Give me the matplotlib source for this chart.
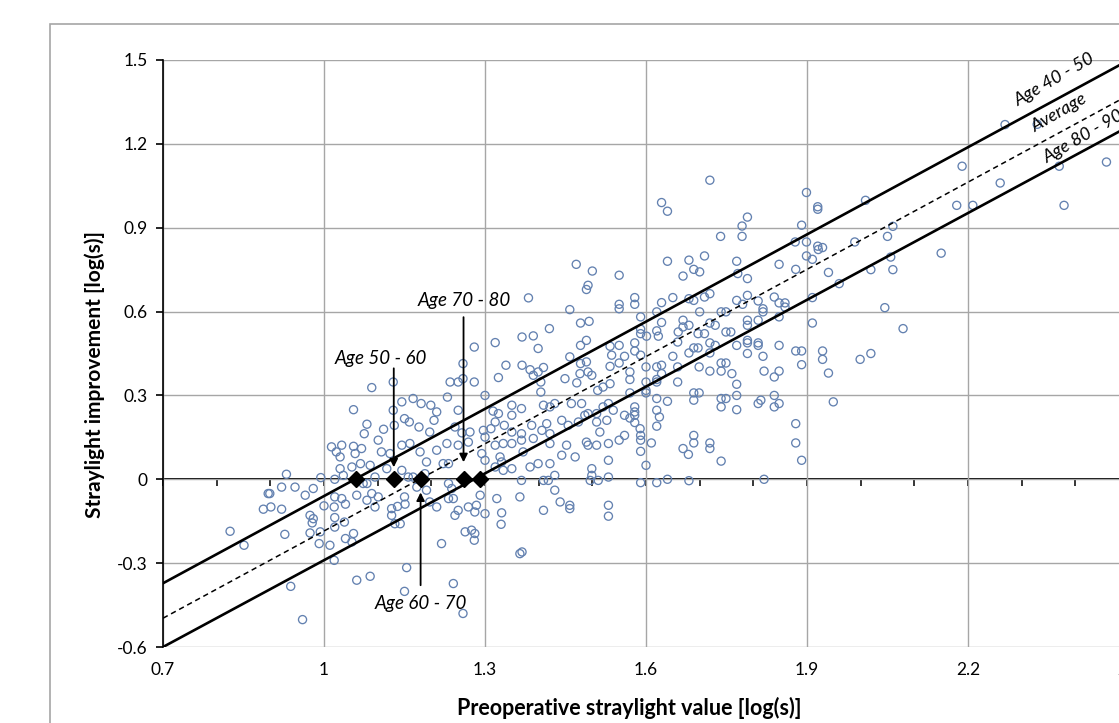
import matplotlib
matplotlib.use("Agg")
import matplotlib.pyplot as plt
from matplotlib.patches import Rectangle
from matplotlib.ticker import MultipleLocator

plt.rcParams['font.family'] = ['Lato', 'DejaVu Sans']

# ---------------- data ----------------
pre_x = [
    2.269, 2.329, 2.189, 2.458, 2.37, 2.26, 2.179, 2.209, 2.379,
    1.899, 1.92, 1.92, 2.009, 1.89, 2.06, 2.05, 1.989, 1.899,
    1.92, 1.921, 1.929, 1.899, 1.91, 2.056, 2.15, 1.94, 2.019, 2.06, 1.96, 1.91,
    2.045, 1.91, 2.079, 1.89, 1.929, 1.929, 1.89, 1.999, 2.019, 1.94, 1.949, 1.89,
    1.719, 1.629, 1.64, 1.789, 1.779, 1.779, 1.739, 1.878, 1.709, 1.64, 1.68, 1.689,
    1.70, 1.669, 1.769, 1.771, 1.789, 1.848, 1.879, 1.55, 1.55, 1.55, 1.579, 1.579,
    1.65, 1.68, 1.689, 1.709, 1.719, 1.629, 1.769, 1.789, 1.809, 1.839, 1.848, 1.859,
    1.818, 1.818, 1.859, 1.78, 1.62, 1.59, 1.70, 1.74, 1.749, 1.848, 1.629, 1.669,
    1.669, 1.68, 1.66, 1.719, 1.729, 1.789, 1.789, 1.809, 1.59, 1.59, 1.62, 1.623,
    1.601, 1.697, 1.709, 1.749, 1.758, 1.55, 1.579, 1.579, 1.659, 1.689, 1.697, 1.719,
    1.729, 1.769, 1.789, 1.789, 1.809, 1.809, 1.848, 1.879, 1.56, 1.59, 1.65, 1.68,
    1.719, 1.789, 1.818,
    1.55, 1.57, 1.57, 1.60, 1.62, 1.629, 1.629, 1.62, 1.62, 1.60, 1.659, 1.659, 1.699,
    1.719, 1.74, 1.74, 1.749, 1.76, 1.769, 1.82, 1.848, 1.839,
    1.57, 1.60, 1.60, 1.62, 1.64, 1.689, 1.699, 1.689, 1.74, 1.749, 1.74, 1.769, 1.769,
    1.809, 1.814, 1.839, 1.839, 1.848,
    1.56, 1.57, 1.579, 1.579, 1.579, 1.579, 1.589, 1.59, 1.59, 1.62, 1.625, 1.62, 1.55,
    1.56, 1.59, 1.60, 1.61, 1.669, 1.679, 1.689, 1.689, 1.719, 1.719, 1.74, 1.879, 1.879,
    1.59, 1.62, 1.64, 1.68, 1.82,
    1.47, 1.50, 1.492, 1.489, 1.381, 1.458, 1.478, 1.494, 1.42, 1.369, 1.39, 1.319, 1.28,
    1.399, 1.478, 1.489, 1.533, 1.536, 1.458, 1.259, 1.339, 1.369, 1.384, 1.409, 1.39,
    1.399, 1.478, 1.489, 1.492, 1.533, 1.25, 1.235, 1.259, 1.28, 1.325, 1.404, 1.404,
    1.449, 1.471, 1.477, 1.499, 1.52, 1.533, 1.51,
    1.181, 1.199, 1.21, 1.205, 1.23, 1.25, 1.30, 1.315, 1.325, 1.319, 1.336, 1.311, 1.35,
    1.35, 1.368, 1.409, 1.421, 1.43, 1.415, 1.461, 1.48, 1.492, 1.508, 1.52, 1.53, 1.539,
    1.474, 1.486, 1.508, 1.527, 1.514, 1.443, 1.455, 1.197, 1.244, 1.257, 1.272, 1.297,
    1.177, 1.35, 1.368, 1.387, 1.406, 1.421,
    1.179, 1.191, 1.21, 1.229, 1.232, 1.222, 1.25, 1.269, 1.30, 1.30, 1.294, 1.319, 1.334,
    1.35, 1.328, 1.331, 1.319, 1.35, 1.334, 1.368, 1.371, 1.39, 1.384, 1.399,
    1.421, 1.421, 1.443, 1.452, 1.43, 1.468, 1.489, 1.492, 1.508, 1.53, 1.499, 1.499,
    1.53, 1.53, 1.409, 1.418, 1.368, 1.511, 1.496,
    1.322, 1.365, 1.409, 1.44, 1.458, 1.458, 1.53, 1.53, 1.43, 1.331, 1.33, 1.30, 1.291,
    1.191, 1.197, 1.21, 1.232, 1.241, 1.25, 1.244, 1.269, 1.284, 1.281, 1.263, 1.275,
    1.281, 1.28, 1.219, 1.365, 1.369, 1.241, 1.259, 1.232, 1.238, 1.188, 1.173,
    1.129, 1.089, 1.145, 1.129, 1.055, 1.166, 1.08, 1.075, 1.111, 1.101, 1.15, 1.159,
    1.131, 1.014, 1.023, 1.033, 1.03, 1.055, 1.07, 1.058, 1.107, 1.123, 1.145, 1.16,
    1.03, 1.036, 1.052, 1.086, 1.068, 1.095, 1.117, 1.145, 0.93, 0.994, 1.02, 1.073,
    1.08, 1.157, 1.166,
    0.896, 0.899, 0.921, 0.946, 0.98, 0.965, 0.887, 0.901, 0.921, 1.0, 1.019, 1.033,
    1.04, 1.02, 1.061, 1.089, 1.101, 1.08, 1.095, 1.126, 1.137, 1.151, 1.15,
    0.974, 0.98, 0.978, 1.02, 1.038, 1.02, 0.993, 0.974, 1.011, 0.991, 1.055, 1.04,
    1.052, 1.132, 1.142, 1.126, 0.927, 0.825, 0.851, 1.019, 1.154, 1.061, 1.086, 0.938,
    1.15, 0.96,
]
improvement_y = [
    1.269, 1.27, 1.12, 1.135, 1.12, 1.06, 0.98, 0.98, 0.98,
    1.026, 0.966, 0.975, 0.998, 0.909, 0.905, 0.869, 0.849, 0.849,
    0.834, 0.822, 0.829, 0.799, 0.787, 0.795, 0.809, 0.74, 0.75, 0.75, 0.70, 0.65,
    0.614, 0.559, 0.539, 0.459, 0.459, 0.429, 0.41, 0.429, 0.45, 0.38, 0.277, 0.068,
    1.07, 0.99, 0.959, 0.938, 0.906, 0.869, 0.869, 0.849, 0.799, 0.78, 0.784, 0.751,
    0.742, 0.727, 0.78, 0.736, 0.718, 0.769, 0.751, 0.73, 0.626, 0.61, 0.65, 0.626,
    0.65, 0.646, 0.64, 0.652, 0.664, 0.632, 0.64, 0.658, 0.638, 0.652, 0.631, 0.631,
    0.61, 0.599, 0.616, 0.626, 0.599, 0.581, 0.599, 0.599, 0.599, 0.581, 0.561, 0.569,
    0.545, 0.551, 0.527, 0.559, 0.551, 0.569, 0.551, 0.569, 0.537, 0.521, 0.531, 0.512,
    0.512, 0.521, 0.521, 0.527, 0.527, 0.479, 0.488, 0.459, 0.491, 0.47, 0.47, 0.488,
    0.479, 0.479, 0.497, 0.488, 0.488, 0.479, 0.479, 0.459, 0.44, 0.444, 0.44, 0.452,
    0.452, 0.45, 0.44,
    0.416, 0.384, 0.357, 0.402, 0.402, 0.408, 0.378, 0.357, 0.348, 0.348, 0.402, 0.348, 0.402,
    0.387, 0.387, 0.416, 0.416, 0.378, 0.34, 0.387, 0.387, 0.366,
    0.309, 0.318, 0.309, 0.289, 0.279, 0.309, 0.309, 0.283, 0.289, 0.289, 0.259, 0.30, 0.249,
    0.271, 0.283, 0.30, 0.259, 0.271,
    0.229, 0.219, 0.259, 0.241, 0.229, 0.203, 0.181, 0.157, 0.14, 0.247, 0.223, 0.19, 0.14,
    0.157, 0.10, 0.05, 0.13, 0.11, 0.089, 0.157, 0.13, 0.13, 0.11, 0.065, 0.199, 0.13,
    -0.012, -0.012, 0.0, -0.005, 0.0,
    0.769, 0.745, 0.694, 0.679, 0.649, 0.607, 0.559, 0.565, 0.539, 0.509, 0.513, 0.489, 0.473,
    0.468, 0.479, 0.497, 0.476, 0.444, 0.438, 0.414, 0.408, 0.408, 0.392, 0.40, 0.372,
    0.384, 0.414, 0.42, 0.384, 0.404, 0.348, 0.348, 0.36, 0.348, 0.364, 0.348, 0.312,
    0.36, 0.345, 0.378, 0.372, 0.33, 0.342, 0.318,
    0.271, 0.265, 0.241, 0.211, 0.294, 0.247, 0.30, 0.244, 0.235, 0.205, 0.193, 0.181, 0.265,
    0.229, 0.253, 0.265, 0.259, 0.271, 0.199, 0.271, 0.271, 0.235, 0.235, 0.259, 0.271, 0.247,
    0.205, 0.229, 0.205, 0.211, 0.169, 0.211, 0.193, 0.169, 0.187, 0.166, 0.169, 0.175,
    0.187, 0.169, 0.163, 0.193, 0.175, 0.163,
    0.098, 0.062, 0.104, 0.128, 0.056, 0.056, 0.122, 0.133, 0.151, 0.068, 0.092, 0.122, 0.128,
    0.128, 0.08, 0.062, 0.044, 0.038, 0.032, 0.14, 0.098, 0.146, 0.044, 0.056,
    0.128, 0.056, 0.086, 0.122, 0.014, 0.08, 0.133, 0.122, 0.122, 0.128, 0.038, 0.014,
    0.068, 0.008, -0.004, -0.004, -0.004, -0.004, -0.004,
    -0.069, -0.063, -0.111, -0.081, -0.093, -0.105, -0.093, -0.132, -0.039, -0.12, -0.161, -0.123, -0.057,
    -0.039, -0.081, -0.099, -0.069, -0.069, -0.111, -0.129, -0.099, -0.093, -0.117, -0.188, -0.182,
    -0.194, -0.218, -0.23, -0.266, -0.26, -0.373, -0.48, -0.015, -0.033, 0.02, -0.028,
    0.348, 0.328, 0.277, 0.247, 0.249, 0.289, 0.197, 0.163, 0.179, 0.14, 0.217, 0.205,
    0.193, 0.116, 0.098, 0.122, 0.08, 0.118, 0.11, 0.092, 0.098, 0.092, 0.122, 0.128,
    0.038, 0.014, 0.044, 0.05, 0.056, 0.008, 0.038, 0.032, 0.018, 0.006, 0.0, -0.015,
    -0.015, 0.008, 0.008,
    -0.051, -0.051, -0.028, -0.028, -0.033, -0.057, -0.107, -0.099, -0.107, -0.095, -0.099, -0.069,
    -0.089, -0.063, -0.057, -0.051, -0.063, -0.075, -0.099, -0.105, -0.097, -0.089, -0.063,
    -0.129, -0.141, -0.156, -0.137, -0.153, -0.171, -0.188, -0.192, -0.236, -0.23, -0.194, -0.212,
    -0.224, -0.159, -0.159, -0.129, -0.197, -0.186, -0.236, -0.29, -0.316, -0.361, -0.347, -0.383,
    -0.401, -0.502,
]

# regression lines: y at x = 0.7 and x = 2.5
line_x = [0.7, 2.5]
line_names = ['Age 40 - 50', 'Average', 'Age 80 - 90']
line_y = {
    'Age 40 - 50': [-0.372, 1.500],
    'Average': [-0.497, 1.375],
    'Age 80 - 90': [-0.600, 1.263],
}
line_styles = {'Age 40 - 50': '-', 'Average': '--', 'Age 80 - 90': '-'}
line_label_pos = {'Age 40 - 50': (2.362, 1.43), 'Average': (2.37, 1.31),
                  'Age 80 - 90': (2.415, 1.225)}

# zero-crossings per age group
crossing_x = [1.06, 1.13, 1.18, 1.26, 1.29]
crossing_y = [0, 0, 0, 0, 0]

# annotated arrows: label, text position, arrow tail, arrow head
arrow_labels = ['Age 50 - 60', 'Age 70 - 80', 'Age 60 - 70']
arrow_text_pos = [(1.106, 0.433), (1.262, 0.64), (1.18, -0.444)]
arrow_tail = [(1.13, 0.397), (1.26, 0.58), (1.18, -0.379)]
arrow_head = [(1.13, 0.043), (1.26, 0.061), (1.18, -0.047)]

xticks = [0.7, 1.0, 1.3, 1.6, 1.9, 2.2, 2.5]
xtick_labels = ['0.7', '1', '1.3', '1.6', '1.9', '2.2', '2.5']
yticks = [-0.6, -0.3, 0.0, 0.3, 0.6, 0.9, 1.2, 1.5]
ytick_labels = ['-0.6', '-0.3', '0', '0.3', '0.6', '0.9', '1.2', '1.5']

# ---------------- figure ----------------
W, H = 1119, 723
fig = plt.figure(figsize=(W / 100, H / 100), dpi=100)
fig.patch.set_facecolor('white')

# outer chart border (extends past the cropped image)
fig.patches.append(Rectangle((50 / W, -0.2), 2.0, 0.2 + 1 - 24 / H,
                             transform=fig.transFigure, fill=False,
                             edgecolor='#a6a6a6', lw=1.2))

left = 163 / W
right = 1129 / W
bottom = 1 - 647 / H
top = 1 - 60 / H
ax = fig.add_axes([left, bottom, right - left, top - bottom])
ax.set_xlim(0.7, 2.5)
ax.set_ylim(-0.6, 1.5)

for s in ['top', 'right', 'bottom']:
    ax.spines[s].set_visible(False)
ax.spines['left'].set_color('black')
ax.spines['left'].set_linewidth(1.2)
ax.spines['left'].set_zorder(5)

ax.set_xticks(xticks)
ax.set_xticklabels(xtick_labels)
ax.set_yticks(yticks)
ax.set_yticklabels(ytick_labels)
ax.tick_params(axis='x', length=0, pad=11, labelsize=12.5)
ax.tick_params(axis='y', direction='out', length=5, width=1.2, pad=6,
               labelsize=12.5, color='black')
ax.grid(True, color='#a6a6a6', lw=1.0, zorder=0)
ax.set_axisbelow(True)

# horizontal axis line at y = 0 with ticks
sec = ax.secondary_xaxis(0.6 / 2.1)
sec.spines['bottom'].set_color('black')
sec.spines['bottom'].set_linewidth(1.4)
sec.xaxis.set_major_locator(MultipleLocator(0.1))
sec.tick_params(axis='x', direction='out', length=5, width=1.1,
                color='black', labelbottom=False)

# scatter
ax.scatter(pre_x, improvement_y, s=34, facecolors='none',
           edgecolors='#6381b0', linewidths=0.95, zorder=3)

# lines
for name in line_names:
    ls = line_styles[name]
    if ls == '--':
        ax.plot(line_x, line_y[name], color='black', lw=1.1,
                dashes=(3.5, 2.5), zorder=4)
    else:
        ax.plot(line_x, line_y[name], color='black', lw=1.9, zorder=4)
    lx, ly = line_label_pos[name]
    ax.text(lx, ly, name, rotation=30, rotation_mode='anchor',
            ha='center', va='center', fontsize=13, fontstyle='italic',
            zorder=6)

# crossing markers
ax.plot(crossing_x, crossing_y, linestyle='none', marker='D',
        markersize=8, color='black', zorder=7)

# arrows with labels
for lab, tp, tail, head in zip(arrow_labels, arrow_text_pos, arrow_tail,
                               arrow_head):
    ax.text(tp[0], tp[1], lab, ha='center', va='center', fontsize=13.5,
            fontstyle='italic', zorder=8)
    ax.annotate('', xy=head, xytext=tail,
                arrowprops=dict(arrowstyle='-|>', color='black', lw=1.3,
                                mutation_scale=12, shrinkA=0, shrinkB=0),
                zorder=8)

# axis titles
fig.text(95 / W, 1 - 375 / H, 'Straylight improvement [log(s)]',
         rotation=90, ha='center', va='center', fontsize=15,
         fontweight='bold')
fig.text(629 / W, 1 - 708 / H, 'Preoperative straylight value [log(s)]',
         ha='center', va='center', fontsize=15.5, fontweight='bold')

fig.savefig('out.png', dpi=100)
